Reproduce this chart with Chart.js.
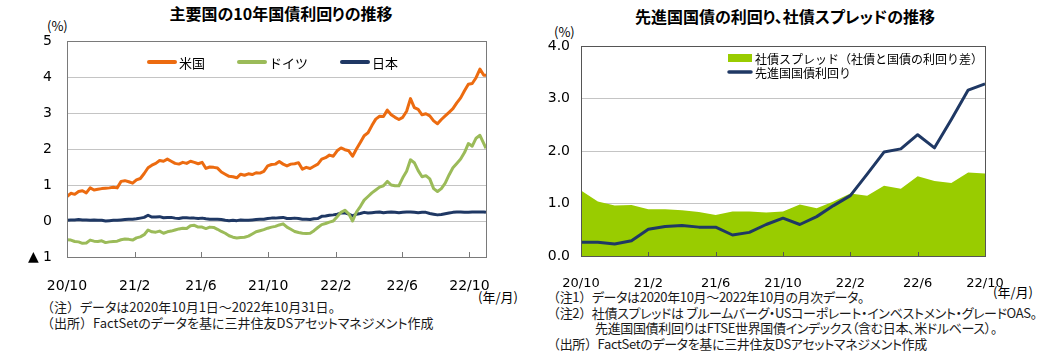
<!DOCTYPE html>
<html><head><meta charset="utf-8">
<script src="https://cdn.jsdelivr.net/npm/chart.js@4.4.0/dist/chart.umd.min.js"></script>
<style>
body{margin:0;width:1041px;height:355px;background:#fff;position:relative;overflow:hidden;font-family:"Noto Sans CJK JP",sans-serif;color:#000;}
.abs{position:absolute;white-space:nowrap;font-feature-settings:"palt";}
.np{font-feature-settings:normal;}
.title{font-weight:bold;font-size:16px;line-height:20px;transform:translateX(-50%);}
.note{font-size:13px;line-height:15.5px;color:#1a1a1a;}
.unit{font-size:13px;line-height:16px;}
</style></head><body>
<div class="abs title" style="left:281px;top:3px">主要国の10年国債利回りの推移</div>
<div class="abs title" style="left:785px;top:6px">先進国国債の利回り、社債スプレッドの推移</div>
<div class="abs unit" style="left:47px;top:18px">(%)</div>
<div class="abs unit" style="left:554px;top:24px">(%)</div>
<div class="abs unit" style="left:478px;top:289px">(年/月)</div>
<div class="abs unit" style="left:993px;top:284px">(年/月)</div>
<div class="abs note" style="left:41px;top:299px"><span class="np">（注）</span>データは2020年10月1日～2022年10月31日。<br><span class="np">（出所）</span>FactSetのデータを基に三井住友DSアセットマネジメント作成</div>
<div class="abs note" style="left:547px;top:289px;letter-spacing:-0.35px"><span class="np">（注1）</span>データは2020年10月～2022年10月の月次データ。<br><span class="np">（注2）</span>社債スプレッドは ブルームバーグ・USコーポレート・インベストメント・グレードOAS。<br><span style="padding-left:48px">先進国国債利回りはFTSE世界国債インデックス（含む日本、米ドルベース）。</span><br><span class="np">（出所）</span>FactSetのデータを基に三井住友DSアセットマネジメント作成</div>
<canvas id="c1" width="520" height="300" style="position:absolute;left:0;top:0"></canvas>
<canvas id="c2" width="501" height="300" style="position:absolute;left:540px;top:0"></canvas>
<script>
// ---------- Left chart data (weekly readings, 2020/10/1 - 2022/10/31) ----------
const usYield = [
 0.68,0.77,0.74,0.82,0.84,0.78,0.92,0.86,0.88,0.90,
 0.91,0.92,0.94,0.92,1.10,1.12,1.09,1.05,1.14,1.18,
 1.32,1.48,1.55,1.60,1.68,1.66,1.72,1.66,1.60,1.58,
 1.63,1.60,1.66,1.63,1.59,1.63,1.46,1.50,1.49,1.47,
 1.36,1.30,1.24,1.23,1.20,1.30,1.27,1.31,1.29,1.34,
 1.33,1.38,1.53,1.57,1.58,1.65,1.58,1.53,1.58,1.59,
 1.62,1.44,1.49,1.46,1.52,1.58,1.72,1.76,1.83,1.80,
 1.95,2.03,1.98,1.95,1.80,2.00,2.18,2.37,2.45,2.65,
 2.83,2.91,2.90,3.08,2.95,2.88,2.82,2.88,3.05,3.40,
 3.15,3.10,2.95,2.98,2.92,2.78,2.70,2.82,2.92,3.02,
 3.12,3.28,3.42,3.62,3.80,3.82,3.98,4.22,4.05,4.05];
const deYield = [
 -0.52,-0.53,-0.57,-0.58,-0.62,-0.61,-0.53,-0.56,-0.57,-0.55,
 -0.60,-0.58,-0.57,-0.56,-0.52,-0.50,-0.51,-0.53,-0.47,-0.44,
 -0.38,-0.25,-0.30,-0.31,-0.28,-0.34,-0.30,-0.28,-0.25,-0.22,
 -0.20,-0.21,-0.13,-0.12,-0.17,-0.17,-0.21,-0.17,-0.18,-0.23,
 -0.29,-0.34,-0.41,-0.45,-0.47,-0.46,-0.45,-0.42,-0.36,-0.30,
 -0.27,-0.24,-0.20,-0.17,-0.15,-0.11,-0.08,-0.17,-0.23,-0.29,
 -0.32,-0.34,-0.35,-0.34,-0.27,-0.18,-0.10,-0.07,-0.03,0.00,
 0.12,0.24,0.30,0.20,0.00,0.25,0.40,0.58,0.68,0.78,
 0.86,0.94,0.98,1.10,1.00,0.98,0.98,1.20,1.38,1.70,
 1.62,1.40,1.23,1.26,1.17,0.90,0.82,0.90,1.05,1.28,
 1.48,1.60,1.72,1.90,2.15,2.08,2.30,2.38,2.15,2.02];
const jpYield = [
 0.02,0.03,0.03,0.04,0.03,0.03,0.02,0.03,0.02,0.02,
 0.00,0.01,0.02,0.02,0.03,0.04,0.05,0.05,0.06,0.08,
 0.10,0.16,0.11,0.11,0.12,0.09,0.10,0.10,0.08,0.07,
 0.09,0.09,0.08,0.08,0.07,0.08,0.06,0.05,0.05,0.05,
 0.04,0.02,0.01,0.02,0.01,0.03,0.02,0.02,0.03,0.04,
 0.05,0.05,0.07,0.08,0.08,0.09,0.10,0.07,0.07,0.08,
 0.07,0.05,0.05,0.04,0.06,0.07,0.13,0.14,0.16,0.17,
 0.19,0.22,0.23,0.19,0.14,0.19,0.21,0.24,0.22,0.23,
 0.24,0.25,0.23,0.24,0.25,0.24,0.23,0.24,0.25,0.25,
 0.24,0.23,0.24,0.24,0.21,0.19,0.17,0.18,0.20,0.22,
 0.24,0.25,0.25,0.24,0.24,0.25,0.25,0.25,0.25,0.24];
// day offsets from 2020/10/1 (weekly, last point 2022/10/31)
const leftDays = usYield.map((_, i) => Math.min(i * 7, 760));
const leftTickDays = [0, 123, 243, 365, 488, 608, 730];
const leftTickLabels = ['20/10', '21/2', '21/6', '21/10', '22/2', '22/6', '22/10'];
const leftSeriesNames = ['米国', 'ドイツ', '日本'];

// ---------- Right chart data (monthly, 2020/10 - 2022/10) ----------
const months = ['20/10','20/11','20/12','21/1','21/2','21/3','21/4','21/5','21/6','21/7','21/8','21/9',
 '21/10','21/11','21/12','22/1','22/2','22/3','22/4','22/5','22/6','22/7','22/8','22/9','22/10'];
const corpSpread = [1.25,1.04,0.96,0.97,0.89,0.89,0.87,0.84,0.78,0.85,0.85,0.83,
 0.85,0.98,0.91,1.04,1.19,1.15,1.34,1.28,1.52,1.43,1.39,1.59,1.57];
const govYield = [0.26,0.26,0.23,0.29,0.51,0.56,0.58,0.55,0.55,0.40,0.45,0.60,
 0.72,0.60,0.75,0.96,1.15,1.56,1.98,2.04,2.31,2.06,2.60,3.16,3.28];
const rightSeriesNames = ['社債スプレッド（社債と国債の利回り差）', '先進国国債利回り'];

const NUM_FONT = '"DejaVu Sans", Verdana, sans-serif';
const JP_FONT = '"Noto Sans CJK JP", sans-serif';

const framePlugin = {
  id: 'frame',
  afterDatasetsDraw(chart, args, o) {
    const {ctx, chartArea: a} = chart;
    const x = chart.scales.x;
    ctx.save();
    ctx.lineWidth = 1;
    ctx.strokeStyle = o.color;
    ctx.strokeRect(Math.round(a.left) + 0.5, Math.round(a.top) + 0.5, Math.round(a.width), Math.round(a.height));
    (o.tickValues || []).forEach(v => {
      const px = Math.round(x.getPixelForValue(v)) + 0.5;
      ctx.beginPath();
      ctx.moveTo(px, a.bottom);
      ctx.lineTo(px, a.bottom - o.tickLen);
      ctx.stroke();
    });
    ctx.restore();
  }
};

const legendPlugin = {
  id: 'inLegend',
  afterDraw(chart, args, o) {
    const {ctx, chartArea: a} = chart;
    ctx.save();
    ctx.font = o.font;
    ctx.textBaseline = 'middle';
    let x = a.left + o.x, y = a.top + o.y;
    o.order.forEach((di) => {
      const ds = chart.data.datasets[di];
      const kind = ds.fill ? 'box' : 'line';
      if (kind === 'box') {
        ctx.fillStyle = ds.backgroundColor;
        ctx.fillRect(x, y - o.boxH / 2, o.sampleW, o.boxH);
      } else {
        ctx.strokeStyle = ds.borderColor;
        ctx.lineWidth = o.lineW;
        ctx.lineCap = 'round';
        ctx.beginPath();
        ctx.moveTo(x + 1, y);
        ctx.lineTo(x + o.sampleW - 1, y);
        ctx.stroke();
      }
      ctx.fillStyle = '#000';
      ctx.fillText(ds.label, x + o.sampleW + o.textGap, y + 1);
      const w = o.sampleW + o.textGap + ctx.measureText(ds.label).width;
      if (o.dir === 'row') x += w + o.itemGap; else y += o.rowGap;
    });
    ctx.restore();
  }
};

new Chart(document.getElementById('c1'), {
  type: 'line',
  data: {
    datasets: [
      {label: leftSeriesNames[0], data: usYield.map((v, i) => ({x: leftDays[i], y: v})), borderColor: '#EC6B10', backgroundColor: '#EC6B10'},
      {label: leftSeriesNames[1], data: deYield.map((v, i) => ({x: leftDays[i], y: v})), borderColor: '#9BBB59', backgroundColor: '#9BBB59'},
      {label: leftSeriesNames[2], data: jpYield.map((v, i) => ({x: leftDays[i], y: v})), borderColor: '#1F3864', backgroundColor: '#1F3864'}
    ]
  },
  options: {
    responsive: false, animation: false, events: [],
    layout: {padding: {left: 0, right: 34, top: 41, bottom: 0}},
    elements: {point: {radius: 0}, line: {borderWidth: 3, tension: 0, borderJoinStyle: 'round'}},
    plugins: {
      legend: {display: false}, tooltip: {enabled: false},
      frame: {color: '#7a7a7a', tickValues: leftTickDays.slice(1), tickLen: 5},
      inLegend: {dir: 'row', order: [0, 1, 2], font: '13px ' + JP_FONT, x: 81, y: 21, sampleW: 28, lineW: 4, textGap: 3, itemGap: 33}
    },
    scales: {
      x: {
        type: 'linear', min: 0, max: 760,
        afterBuildTicks: s => { s.ticks = leftTickDays.map(v => ({value: v})); },
        afterFit: s => { s.height = 43; },
        grid: {display: false}, border: {display: false},
        ticks: {autoSkip: false, maxRotation: 0, padding: 13, color: '#000', font: {family: NUM_FONT, size: 14},
          callback: v => leftTickLabels[leftTickDays.indexOf(v)] ?? ''}
      },
      y: {
        min: -1, max: 5,
        afterFit: s => { s.width = 67; },
        grid: {color: '#c4c4c4', drawTicks: false, lineWidth: 1}, border: {display: false},
        ticks: {stepSize: 1, padding: 15, color: '#000', font: {family: NUM_FONT, size: 14},
          callback: v => v < 0 ? '▲ ' + Math.abs(v) : String(v)}
      }
    }
  },
  plugins: [framePlugin, legendPlugin]
});

new Chart(document.getElementById('c2'), {
  type: 'line',
  data: {
    labels: months,
    datasets: [
      {label: rightSeriesNames[0], data: corpSpread, fill: 'origin', backgroundColor: '#99CC00', borderColor: '#99CC00', borderWidth: 0, order: 2},
      {label: rightSeriesNames[1], data: govYield, fill: false, borderColor: '#1F3864', backgroundColor: '#1F3864', borderWidth: 3, order: 1}
    ]
  },
  options: {
    responsive: false, animation: false, events: [],
    layout: {padding: {left: 0, right: 56, top: 46, bottom: 0}},
    elements: {point: {radius: 0}, line: {tension: 0, borderJoinStyle: 'round'}},
    plugins: {
      legend: {display: false}, tooltip: {enabled: false},
      frame: {color: '#555555', tickValues: [4, 8, 12, 16, 20], tickLen: 4},
      inLegend: {dir: 'col', order: [0, 1], font: '12px ' + JP_FONT, x: 147, y: 12, rowGap: 14, sampleW: 24, boxH: 8, lineW: 3.5, textGap: 3}
    },
    scales: {
      x: {
        type: 'category', offset: false,
        afterFit: s => { s.height = 44; },
        grid: {display: false}, border: {display: false},
        ticks: {autoSkip: false, maxRotation: 0, padding: 12, color: '#000', font: {family: NUM_FONT, size: 13},
          callback: (v, i) => i % 4 === 0 ? months[i] : ''}
      },
      y: {
        min: 0, max: 4,
        afterFit: s => { s.width = 41; },
        grid: {color: '#c4c4c4', drawTicks: false, lineWidth: 1}, border: {display: false},
        ticks: {stepSize: 1, padding: 11, color: '#000', font: {family: NUM_FONT, size: 14},
          callback: v => v.toFixed(1)}
      }
    }
  },
  plugins: [framePlugin, legendPlugin]
});
</script>
</body></html>
